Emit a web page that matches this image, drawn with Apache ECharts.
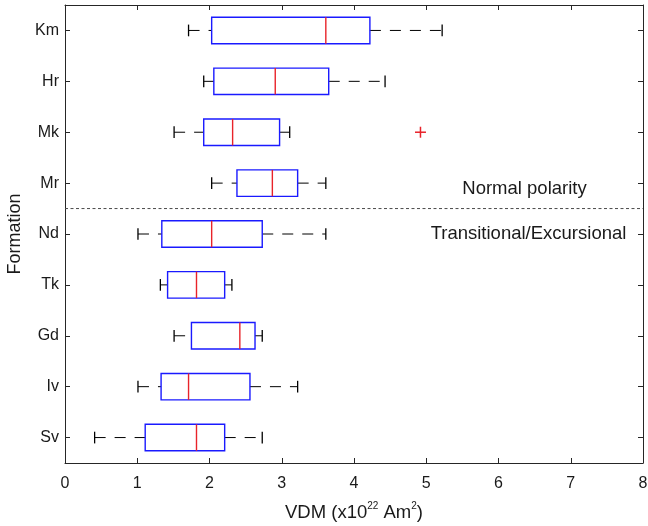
<!DOCTYPE html>
<html>
<head>
<meta charset="utf-8">
<script src="https://cdn.jsdelivr.net/npm/echarts@6/dist/echarts.min.js"></script>
<style>
html,body{margin:0;padding:0;background:#fff;}
#chart{width:648px;height:526px;}
</style>
</head>
<body>
<div id="chart"></div>
<script>
// ---- data ----
const formations   = ['Km', 'Hr', 'Mk', 'Mr', 'Nd', 'Tk', 'Gd', 'Iv', 'Sv'];
const whiskerLow   = [1.71, 1.92, 1.51, 2.03, 1.01, 1.32, 1.51, 1.01, 0.41];
const quartile1    = [2.03, 2.06, 1.92, 2.38, 1.34, 1.42, 1.75, 1.33, 1.11];
const medians      = [3.61, 2.91, 2.32, 2.87, 2.03, 1.82, 2.42, 1.71, 1.82];
const quartile3    = [4.22, 3.65, 2.97, 3.22, 2.73, 2.21, 2.63, 2.56, 2.21];
const whiskerHigh  = [5.22, 4.43, 3.11, 3.61, 3.61, 2.31, 2.73, 3.22, 2.73];
const outlierCats  = ['Mk'];
const outlierVals  = [4.92];
const dividerAfter = 'Mr';
const xTicks       = [0, 1, 2, 3, 4, 5, 6, 7, 8];
const labelAbove   = 'Normal polarity';
const labelBelow   = 'Transitional/Excursional';

const FONT = "'Liberation Sans', Arial, Helvetica, sans-serif";
const AXIS_COLOR = '#262626';
const TEXT_COLOR = '#1a1a1a';

const boxData = formations.map((f, i) => [i, whiskerLow[i], quartile1[i], medians[i], quartile3[i], whiskerHigh[i]]);
const outlierData = outlierCats.map((c, i) => [formations.indexOf(c), outlierVals[i]]);
const dividerData = [[formations.indexOf(dividerAfter)]];

function renderBox(params, api) {
  const idx = api.value(0);
  const lo = api.coord([api.value(1), idx]);
  const q1 = api.coord([api.value(2), idx]);
  const md = api.coord([api.value(3), idx]);
  const q3 = api.coord([api.value(4), idx]);
  const hi = api.coord([api.value(5), idx]);
  const band = api.size([0, 1])[1];
  const cy = lo[1];
  const boxH = band * 0.52;
  const capH = band * 0.23;
  const wStyle = {stroke: '#000', lineWidth: 1, lineDash: [11, 9], fill: null};
  const cStyle = {stroke: '#000', lineWidth: 1.3, fill: null};
  return {
    type: 'group',
    children: [
      {type: 'line', shape: {x1: lo[0], y1: cy, x2: q1[0], y2: cy}, style: wStyle},
      {type: 'line', shape: {x1: q3[0], y1: cy, x2: hi[0], y2: cy}, style: wStyle},
      {type: 'line', shape: {x1: lo[0], y1: cy - capH / 2, x2: lo[0], y2: cy + capH / 2}, style: cStyle},
      {type: 'line', shape: {x1: hi[0], y1: cy - capH / 2, x2: hi[0], y2: cy + capH / 2}, style: cStyle},
      {type: 'rect', shape: {x: q1[0], y: cy - boxH / 2, width: q3[0] - q1[0], height: boxH},
        style: {fill: 'none', stroke: '#1a1aff', lineWidth: 1.4}},
      {type: 'line', shape: {x1: md[0], y1: cy - boxH / 2, x2: md[0], y2: cy + boxH / 2},
        style: {stroke: '#e8232a', lineWidth: 1.4, fill: null}}
    ]
  };
}

function renderOutlier(params, api) {
  const p = api.coord([api.value(1), api.value(0)]);
  const s = 5.5;
  const st = {stroke: '#e8232a', lineWidth: 1.5, fill: null};
  return {
    type: 'group',
    children: [
      {type: 'line', shape: {x1: p[0] - s, y1: p[1], x2: p[0] + s, y2: p[1]}, style: st},
      {type: 'line', shape: {x1: p[0], y1: p[1] - s, x2: p[0], y2: p[1] + s}, style: st}
    ]
  };
}

function renderDivider(params, api) {
  const idx = api.value(0);
  const a = api.coord([0, idx]);
  const b = api.coord([0, idx + 1]);
  const y = (a[1] + b[1]) / 2;
  const cs = params.coordSys;
  return {
    type: 'line',
    shape: {x1: cs.x, y1: y, x2: cs.x + cs.width, y2: y},
    style: {stroke: '#4a4a4a', lineWidth: 1, lineDash: [3, 2.5], fill: null}
  };
}

const chart = echarts.init(document.getElementById('chart'), null, {renderer: 'canvas'});
chart.setOption({
  animation: false,
  backgroundColor: '#fff',
  textStyle: {fontFamily: FONT},
  grid: {left: 65, right: 5, top: 5, bottom: 63, containLabel: false, outerBoundsMode: 'none'},
  xAxis: [{
    type: 'value', min: xTicks[0], max: xTicks[xTicks.length - 1], interval: 1, position: 'bottom',
    name: '{a|VDM (x10}{s|22}{a| Am}{s|2}{a|)}', nameLocation: 'middle', nameGap: 37,
    nameTextStyle: {
      rich: {
        a: {fontFamily: FONT, fontSize: 18.5, color: TEXT_COLOR, lineHeight: 22, verticalAlign: 'bottom'},
        s: {fontFamily: FONT, fontSize: 10, color: TEXT_COLOR, lineHeight: 22, verticalAlign: 'top', padding: [1, 0, 0, 0]}
      }
    },
    axisLine: {show: true, lineStyle: {color: AXIS_COLOR, width: 1}},
    axisTick: {show: true, inside: true, length: 5, lineStyle: {color: AXIS_COLOR}},
    axisLabel: {fontFamily: FONT, fontSize: 16, color: TEXT_COLOR, margin: 13},
    splitLine: {show: false}
  }, {
    type: 'value', min: xTicks[0], max: xTicks[xTicks.length - 1], interval: 1, position: 'top',
    axisLine: {show: true, onZero: false, lineStyle: {color: AXIS_COLOR, width: 1}},
    axisTick: {show: true, inside: true, length: 5, lineStyle: {color: AXIS_COLOR}},
    axisLabel: {show: false},
    splitLine: {show: false}
  }],
  yAxis: [{
    type: 'category', data: formations, inverse: true, position: 'left',
    name: 'Formation', nameLocation: 'middle', nameGap: 41,
    nameTextStyle: {fontFamily: FONT, fontSize: 18, color: TEXT_COLOR},
    axisLine: {show: true, onZero: false, lineStyle: {color: AXIS_COLOR, width: 1}},
    axisTick: {show: true, inside: true, length: 5, alignWithLabel: true, lineStyle: {color: AXIS_COLOR}},
    axisLabel: {fontFamily: FONT, fontSize: 16, color: TEXT_COLOR, margin: 6},
    splitLine: {show: false}
  }, {
    type: 'category', data: formations, inverse: true, position: 'right',
    axisLine: {show: true, onZero: false, lineStyle: {color: AXIS_COLOR, width: 1}},
    axisTick: {show: true, inside: true, length: 5, alignWithLabel: true, lineStyle: {color: AXIS_COLOR}},
    axisLabel: {show: false},
    splitLine: {show: false}
  }],
  graphic: [
    {type: 'text', x: 524.5, y: 189, style: {text: labelAbove, font: '18.5px ' + FONT, fill: TEXT_COLOR, align: 'center', verticalAlign: 'middle'}},
    {type: 'text', x: 528.5, y: 234, style: {text: labelBelow, font: '18.5px ' + FONT, fill: TEXT_COLOR, align: 'center', verticalAlign: 'middle'}}
  ],
  series: [
    {type: 'custom', name: 'divider', xAxisIndex: 0, yAxisIndex: 0, renderItem: renderDivider,
      data: dividerData, encode: {y: 0}, silent: true, clip: false},
    {type: 'custom', name: 'boxes', xAxisIndex: 0, yAxisIndex: 0, renderItem: renderBox,
      data: boxData, encode: {x: [1, 2, 3, 4, 5], y: 0}, clip: false},
    {type: 'custom', name: 'outliers', xAxisIndex: 0, yAxisIndex: 0, renderItem: renderOutlier,
      data: outlierData, encode: {x: 1, y: 0}, clip: false}
  ]
});
</script>
</body>
</html>
